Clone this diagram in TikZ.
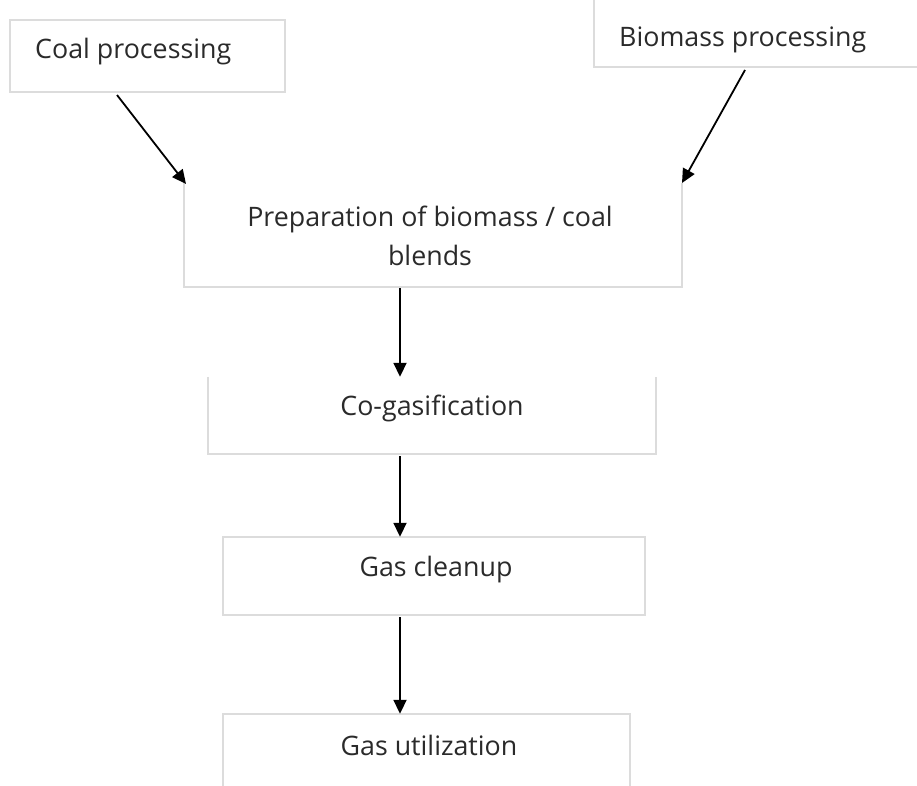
\documentclass[tikz,border=0pt]{standalone}
\usepackage{fontspec}
\setmainfont{Open Sans}
\usetikzlibrary{arrows.meta}
\definecolor{boxline}{HTML}{DCDCDC}
\definecolor{txtcol}{HTML}{2A2A2A}
\tikzset{
  boxnode/.style={draw=none, inner sep=0pt},
  edge/.style={draw=boxline, line width=1.6pt},
  txt/.style={inner sep=0pt, text=txtcol, font=\fontsize{26.8}{39}\selectfont, align=center},
  flow/.style={draw=black, line width=1.8pt, -{Triangle[width=13pt,length=14pt]}}
}
\begin{document}
\begin{tikzpicture}[x=1pt,y=-1pt]
\useasboundingbox (0,0) rectangle (917,785);
% boxes
\node[boxnode, minimum width=275pt, minimum height=72pt] (coal) at (147.5,56) {};
\node[boxnode, minimum width=330pt, minimum height=77pt] (bio) at (759,28.5) {};
\node[boxnode, minimum width=498pt, minimum height=104pt] (prep) at (433,235) {};
\node[boxnode, minimum width=448pt, minimum height=77pt] (cg) at (432,415.5) {};
\node[boxnode, minimum width=422pt, minimum height=78pt] (gc) at (434,576) {};
\node[boxnode, minimum width=407pt, minimum height=78pt] (gu) at (426.5,753) {};
% box borders
\draw[edge] (coal.north west) rectangle (coal.south east);
\draw[edge] (bio.north west) -- (bio.south west) -- (bio.south east);
\draw[edge] (prep.north west) -- (prep.south west) -- (prep.south east) -- (prep.north east);
\draw[edge] (cg.north west) -- (cg.south west) -- (cg.south east) -- (cg.north east);
\draw[edge] (gc.north west) rectangle (gc.south east);
\draw[edge] (gu.south west) -- (gu.north west) -- (gu.north east) -- (gu.south east);
% texts
\node[txt, anchor=west] (coalt) at (35,52) {Coal processing};
\node[txt, anchor=west] (biot) at (619,40) {Biomass processing};
\node[txt] (prept) at (430,235.5) {Preparation of biomass / coal\\blends};
\node[txt] (cgt) at (432,408) {Co-gasification};
\node[txt] (gct) at (436,570) {Gas cleanup};
\node[txt] (gut) at (429,745) {Gas utilization};
% connectors
\coordinate (c1) at (117,95);
\coordinate (c2) at (186,184);
\coordinate (b1) at (745,70);
\coordinate (b2) at (682,183);
\draw[flow] (c1) -- (c2);
\draw[flow] (b1) -- (b2);
\draw[flow] (400,288) -- (cg.north -| 400,0);
\draw[flow] (cg.south -| 400,0) ++(0,2) -- (gc.north -| 400,0);
\draw[flow] (gc.south -| 400,0) ++(0,2) -- (gu.north -| 400,0);
\end{tikzpicture}
\end{document}
